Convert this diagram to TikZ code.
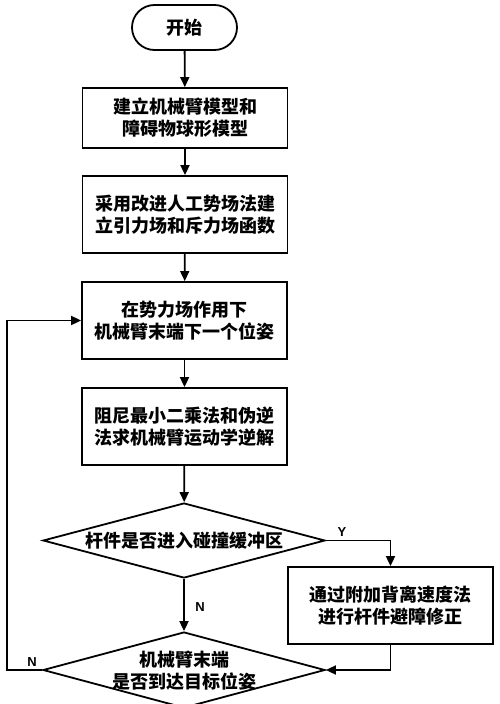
\documentclass[tikz,border=0pt]{standalone}
\usepackage{fontspec}
\newfontfamily\cjk{Noto Sans CJK SC}
\newfontfamily\lat{Liberation Sans}
\usetikzlibrary{arrows.meta,shapes.geometric}
\tikzset{
  box/.style={draw,line width=1.8pt,minimum width=205pt,minimum height=77pt,inner sep=0pt,align=center,font=\cjk\bfseries\fontsize{18}{22}\selectfont},
  term/.style={draw,line width=1.8pt,minimum width=105pt,minimum height=45pt,rounded corners=22.5pt,inner sep=0pt,font=\cjk\bfseries\fontsize{18}{22}\selectfont},
  dia/.style={draw,diamond,line width=1.8pt,minimum width=282pt,minimum height=75pt,inner sep=0pt},
  dtext/.style={align=center,inner sep=0pt,font=\cjk\bfseries\fontsize{18}{22}\selectfont},
  lbl/.style={font=\lat\bfseries\fontsize{13}{15}\selectfont,inner sep=0pt},
  arr/.style={line width=1.8pt,-{Triangle[length=10pt,width=9pt]}}
}
\begin{document}
\begin{tikzpicture}[x=1pt,y=-1pt]
\clip (0,0) rectangle (500,704);
\fill[white] (0,0) rectangle (500,704);
\node[term] (start) at (184.5,27.5) {开始};
\node[box,minimum height=60pt] (b1) at (185,118) {建立机械臂模型和\\障碍物球形模型};
\node[box] (b2) at (185,214.5) {采用改进人工势场法建\\立引力场和斥力场函数};
\node[box] (b3) at (184.5,320.5) {在势力场作用下\\机械臂末端下一个位姿};
\node[box] (b4) at (184.5,426.5) {阻尼最小二乘法和伪逆\\法求机械臂运动学逆解};
\node[dia] (d1) at (184,540.5) {};
\node[dtext] (d1t) at (d1) {杆件是否进入碰撞缓冲区};
\node[box] (rb) at (390.5,605.5) {通过附加背离速度法\\进行杆件避障修正};
\node[dia,minimum height=76pt] (d2) at (184,670) {};
\node[dtext] (d2t) at (184,671) {机械臂末端\\是否到达目标位姿};
\coordinate (loopc) at (7,670);
\draw[arr] (start) -- (b1);
\draw[arr] (b1) -- (b2);
\draw[arr] (b2) -- (b3);
\draw[arr] (b3) -- (b4);
\draw[arr] (b4) -- (d1);
\draw[arr] (d1) -- (d2);
\draw[arr] (d1.east) -| (rb.north);
\draw[arr] (rb.south) |- (d2.east);
\draw[arr] (d2.west) -- (loopc) |- (b3.west);
\node[lbl] (ly) at (342,532) {Y};
\node[lbl] (ln1) at (200,607) {N};
\node[lbl] (ln2) at (32,662) {N};
\end{tikzpicture}
\end{document}
